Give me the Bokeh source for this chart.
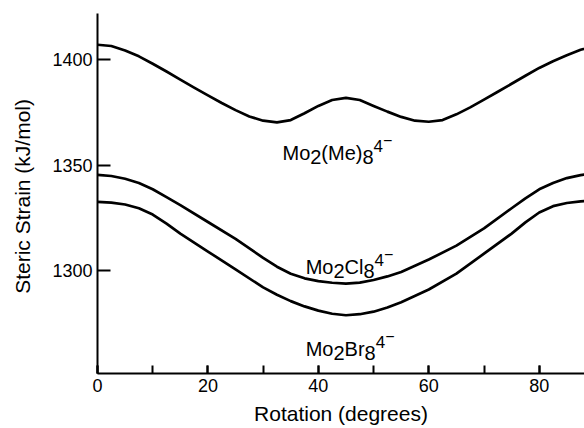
from bokeh.plotting import figure
from bokeh.models import Range1d, SingleIntervalTicker, FixedTicker
from bokeh.core.properties import value
from bokeh.embed import file_html
from bokeh.resources import INLINE

# ---- data ----
rot_me = [0, 2.5, 5, 7.5, 10, 12.5, 15, 17.5, 20, 22.5, 25, 27.5, 30, 32.5, 35,
          37.5, 40, 42.5, 45, 47.5, 50, 52.5, 55, 57.5, 60, 62.5, 65, 67.5, 70,
          72.5, 75, 77.5, 80, 82.5, 85, 87.5, 90]
strain_me = [1407, 1406.4, 1404.3, 1401.5, 1398, 1394.3, 1390.5, 1386.7, 1383,
             1379.4, 1376, 1373, 1371, 1370.2, 1371.3, 1374.5, 1378, 1380.8,
             1381.8, 1380.8, 1378, 1375.3, 1372.8, 1371, 1370.5, 1371.3, 1374,
             1377.3, 1381, 1384.7, 1388.5, 1392.3, 1396, 1399.2, 1402, 1404.6, 1406.5]

rot_cl = [0, 2.5, 5, 7.5, 10, 12.5, 15, 20, 25, 30, 32.5, 35, 37.5, 40, 42.5, 45,
          47.5, 50, 52.5, 55, 60, 65, 70, 75, 77.5, 80, 82.5, 85, 87.5, 90]
strain_cl = [1345.3, 1344.8, 1343.5, 1341.5, 1338.5, 1334.8, 1331, 1323, 1315,
             1306, 1301.8, 1298.5, 1296.3, 1295, 1294.2, 1293.8, 1294.3, 1295.5,
             1297.2, 1299.3, 1305.2, 1311.8, 1320, 1329.5, 1334.2, 1338.5, 1341.5,
             1343.8, 1345.2, 1346]

rot_br = [0, 2.5, 5, 7.5, 10, 12.5, 15, 20, 25, 30, 32.5, 35, 37.5, 40, 42.5, 45,
          47.5, 50, 52.5, 55, 60, 65, 70, 75, 77.5, 80, 82.5, 85, 87.5, 90]
strain_br = [1332.5, 1332.2, 1331.3, 1329.5, 1326.5, 1322.2, 1317.5, 1309, 1300.5,
             1292, 1288.5, 1285.5, 1283, 1281, 1279.5, 1278.8, 1279.3, 1280.5,
             1282.5, 1285, 1291, 1298.5, 1308, 1317.5, 1322.8, 1327.5, 1330.5,
             1332, 1332.8, 1333]

y_ticks = [1300, 1350, 1400]

# label anchors (rotation, strain) and their pieces: (text, shift up px, size px)
label_anchor_x = [33.5, 37.7, 37.7]
label_anchor_y = [1355.9, 1301.5, 1263.0]
label_parts = [
    [("Mo", 0, 20), ("2", -4, 20), ("(Me)", 0, 20), ("8", -4, 20), ("4", 7, 17), ("\u2212", 13, 16)],
    [("Mo", 0, 20), ("2", -4, 20), ("Cl", 0, 20), ("8", -4, 20), ("4", 7, 17), ("\u2212", 13, 16)],
    [("Mo", 0, 20), ("2", -4, 20), ("Br", 0, 20), ("8", -4, 20), ("4", 7, 17), ("\u2212", 13, 16)],
]

FONT = "Liberation Sans"
ADV = {'M': .833, 'o': .556, '2': .556, '(': .333, 'e': .556, ')': .333, '8': .556,
       'C': .722, 'l': .222, 'B': .667, 'r': .333, '4': .556, '\u2212': .584}

p = figure(width=584, height=428, x_range=Range1d(0, 88.2), y_range=Range1d(1251.2, 1421.8),
           output_backend="svg", toolbar_location=None,
           min_border_left=97, min_border_right=0, min_border_top=13, min_border_bottom=55)
p.outline_line_color = None
p.xgrid.visible = False
p.ygrid.visible = False
p.background_fill_color = "white"
p.border_fill_color = "white"

for xs, ys in [(rot_me, strain_me), (rot_cl, strain_cl), (rot_br, strain_br)]:
    p.line(xs, ys, line_color="black", line_width=2.7, line_join="round")

xa = p.xaxis[0]
xa.ticker = SingleIntervalTicker(interval=20, num_minor_ticks=2)
xa.axis_label = "Rotation (degrees)"
xa.major_tick_in = 8
xa.major_tick_out = 0
xa.minor_tick_in = 8
xa.minor_tick_out = 0
xa.major_label_standoff = 5
xa.axis_label_standoff = 7

ya = p.yaxis[0]
ya.ticker = FixedTicker(ticks=y_ticks, minor_ticks=[])
ya.axis_label = "Steric Strain  (kJ/mol)"
ya.major_tick_in = 13
ya.major_tick_out = 0
ya.minor_tick_in = 0
ya.minor_tick_out = 0
ya.major_label_standoff = 5
ya.axis_label_standoff = 15

for ax in (xa, ya):
    ax.axis_line_width = 2
    ax.axis_line_color = "black"
    ax.major_tick_line_width = 2
    ax.minor_tick_line_width = 2
    ax.major_tick_line_color = "black"
    ax.minor_tick_line_color = "black"
    ax.major_label_text_font = FONT
    ax.major_label_text_font_size = "18px"
    ax.major_label_text_color = "black"
    ax.axis_label_text_font = FONT
    ax.axis_label_text_font_size = "21px"
    ax.axis_label_text_font_style = "normal"
    ax.axis_label_text_color = "black"

for lx, ly, parts in zip(label_anchor_x, label_anchor_y, label_parts):
    off = 0.0
    for txt, up, size in parts:
        p.text(x=[lx], y=[ly], text=[txt], x_offset=off, y_offset=-up,
               text_font=value(FONT), text_font_size=value(f"{size}px"),
               text_color="black", text_align="left", text_baseline="alphabetic")
        off += sum(ADV[c] for c in txt) * size

open("out.html", "w").write(file_html(p, INLINE))
